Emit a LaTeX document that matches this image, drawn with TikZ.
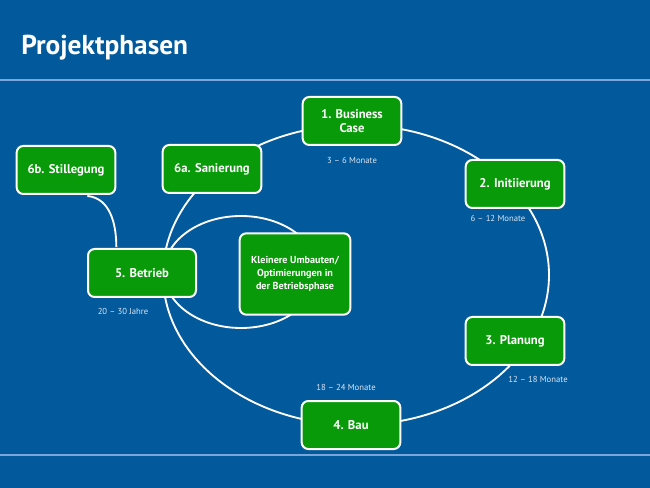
\documentclass[tikz,border=0pt]{standalone}
\usepackage{fontspec}
\setsansfont{PT Sans}
\definecolor{slideblue}{HTML}{02599B}
\definecolor{rulerblue}{HTML}{7AA6DA}
\definecolor{phasegreen}{HTML}{089A08}
\definecolor{notegray}{HTML}{DCE6F3}
\tikzset{
  phase/.style={draw=white,line width=1.5pt,fill=phasegreen,rounded corners=5pt,
    text=white,font=\sffamily\bfseries\fontsize{9.5}{11}\selectfont,align=center,
    minimum width=74pt,minimum height=36pt,inner sep=2pt},
  loopline/.style={draw=white,line width=1.4pt},
  note/.style={text=notegray,font=\sffamily\fontsize{6.5}{7}\selectfont,inner sep=1pt}
}
\begin{document}
\begin{tikzpicture}[x=0.75pt,y=-0.75pt]
  \fill[slideblue] (0,0) rectangle (650,488);
  \useasboundingbox (0,0) rectangle (650,488);
  \draw[rulerblue,line width=1.5pt] (0,80) -- (650,80);
  \draw[rulerblue,line width=1.5pt] (0,455) -- (650,455);
  \node[anchor=west,text=white,font=\sffamily\bfseries\fontsize{20.5}{24}\selectfont,inner sep=0pt] (title) at (21,48) {Projektphasen};

  % Kreislauf und Nebenschleife
  \coordinate (loop) at (356,275);
  \coordinate (inner) at (241,272);
  \draw[loopline] (loop) ellipse [x radius=193,y radius=150];
  \draw[loopline] (inner) ellipse [x radius=77,y radius=56];

  \node[phase] (business) at (352,121) {1. Business\\Case};
  \node[phase] (init) at (515,184) {2. Initiierung};
  \node[phase] (plan) at (515,341) {3. Planung};
  \node[phase] (bau) at (351,425) {4. Bau};
  \node[phase,minimum width=81pt] (betrieb) at (142,273) {5. Betrieb};
  \node[phase] (sanierung) at (212,169) {6a. Sanierung};
  \node[phase] (stilleg) at (66,170) {6b. Stillegung};
  \node[phase,minimum width=83pt,minimum height=61pt,font=\sffamily\bfseries\fontsize{7.6}{9.6}\selectfont] (umbau) at (295,274) {Kleinere Umbauten/\\Optimierungen in\\der Betriebsphase};

  % Stillegung haengt an Betrieb
  \draw[loopline] ([xshift=16pt,yshift=-0.75pt]stilleg.south) to[out=-5,in=90] ([xshift=22pt,yshift=0.75pt]betrieb.north west);

  \node[note] (t1) at (352,160) {3 -- 6 Monate};
  \node[note] (t2) at (498,218) {6 -- 12 Monate};
  \node[note] (t3) at (538,379) {12 -- 18 Monate};
  \node[note] (t4) at (346,387) {18 -- 24 Monate};
  \node[note] (t5) at (123,311) {20 -- 30 Jahre};
\end{tikzpicture}
\end{document}
